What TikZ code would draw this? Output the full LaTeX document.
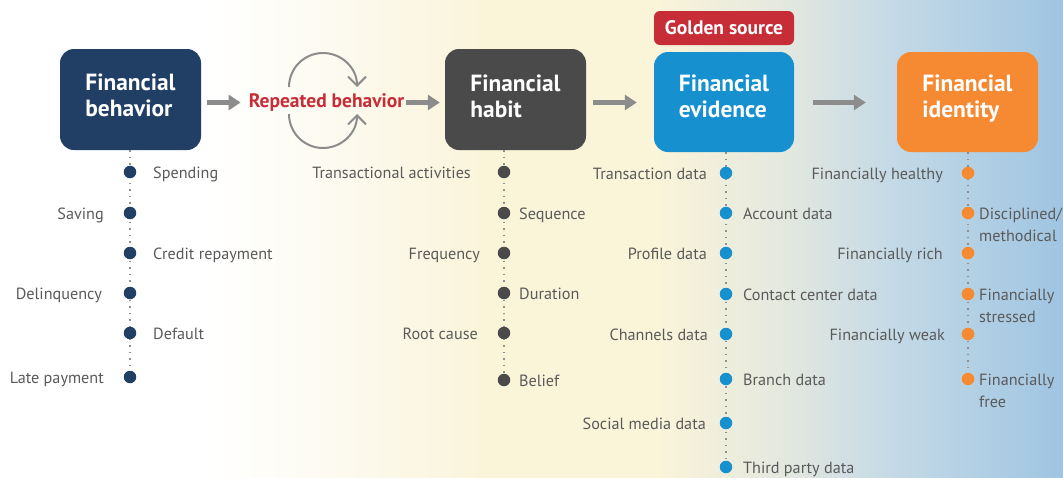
\documentclass[tikz,border=0pt]{standalone}
\usepackage{fontspec}
\setmainfont{PT Sans}
\usetikzlibrary{arrows.meta}

\definecolor{navy}{HTML}{213F65}
\definecolor{charcoal}{HTML}{4A4A4A}
\definecolor{skyblue}{HTML}{1790D0}
\definecolor{tangerine}{HTML}{F58A33}
\definecolor{crimson}{HTML}{C62D37}
\definecolor{arrowgray}{HTML}{8C8C8C}
\definecolor{labelgray}{HTML}{5A5A5A}
\definecolor{dotgray}{HTML}{8F8F8F}
\definecolor{creamA}{HTML}{FCF9EC}
\definecolor{creamB}{HTML}{FAF4D9}
\definecolor{sage}{HTML}{E3E8DF}
\definecolor{mist}{HTML}{C4D9E6}
\definecolor{sky}{HTML}{9FC5E2}

% backdrop: white on the left, cream in the middle, light blue on the right
\pgfdeclarehorizontalshading{backdrop}{100bp}{%
  color(0bp)=(white); color(25bp)=(white); color(35bp)=(white);
  color(42bp)=(creamA); color(48bp)=(creamB); color(56bp)=(creamB);
  color(62bp)=(sage); color(67bp)=(mist); color(75bp)=(sky); color(100bp)=(sky)}

\tikzset{
  stagebox/.style={rounded corners=14pt, inner sep=0pt},
  stagetext/.style={inner sep=0pt, text=white, align=left, anchor=base,
    font=\bfseries\fontsize{23.4}{26}\selectfont},
  badge/.style={rounded corners=6pt, inner sep=0pt, fill=crimson, text=white,
    minimum width=140pt, minimum height=34pt, font=\bfseries\fontsize{19.5}{22}\selectfont},
  flow/.style={draw=arrowgray, line width=5pt, -{Triangle[length=12pt,width=15pt]}},
  loopline/.style={draw=arrowgray, line width=2pt,
    -{Straight Barb[length=9pt,width=18pt,line width=2pt]}},
  dotline/.style={draw=dotgray, line width=1.3pt, dash pattern=on 1.3pt off 5.2pt},
  bullet/.style={circle, inner sep=0pt, minimum size=12.5pt},
  lbl/.style={font=\fontsize{16.2}{22}\selectfont, text=labelgray, inner sep=0pt},
  rside/.style={lbl, anchor=base west},
  lside/.style={lbl, anchor=base east},
}

\begin{document}
\begin{tikzpicture}[x=1pt,y=1pt]
\useasboundingbox (0,0) rectangle (1063,-477);
\shade[shading=backdrop] (0,0) rectangle (1063,-477);

% stage boxes and their titles (titles sit on the baseline of their last line)
\node[stagebox, fill=navy, minimum width=141pt, minimum height=101pt] (behav) at (130.5,-99.5) {};
\node[stagebox, fill=charcoal, minimum width=141pt, minimum height=101pt] (habit) at (515.5,-99.5) {};
\node[stagebox, fill=skyblue, minimum width=140pt, minimum height=100pt] (evid) at (724,-102) {};
\node[stagebox, fill=tangerine, minimum width=141pt, minimum height=100pt] (ident) at (967.5,-102) {};
\node[stagetext] (behavT) at (130.5,-116.5) {Financial\\behavior};
\node[stagetext] (habitT) at (515.5,-117.5) {Financial\\habit};
\node[stagetext] (evidT) at (724,-117.5) {Financial\\evidence};
\node[stagetext] (identT) at (967.5,-117.5) {Financial\\identity};
\node[badge] (gold) at (724,-28) {Golden source};

% repetition loop
\node[font=\bfseries\fontsize{19.5}{22}\selectfont, text=crimson, inner sep=0pt] (rep) at (326.5,-102.5) {Repeated behavior};
\draw[loopline] (289,-87) arc[start angle=180, end angle=0, radius=34];
\draw[loopline] (289,-114) arc[start angle=180, end angle=360, radius=34];

% flow arrows
\draw[flow, shorten <=6pt, shorten >=8pt] (behav.east |- rep) -- (rep.west);
\draw[flow, shorten <=2pt, shorten >=5pt] (rep.east) -- (habit.west |- rep);
\draw[flow, shorten <=7pt, shorten >=17pt] (habit.east |- rep) -- (evid.west |- rep);
\draw[flow, shorten <=19pt, shorten >=31pt] (evid.east |- rep) -- (ident.west |- rep);

% column 1: financial behavior
\foreach \n/\y in {1/172,2/213,3/253,4/293,5/333,6/377}
  \node[bullet] (a\n) at (130,-\y) {};
\draw[dotline] (behav.south -| a1) -- (a6);
\foreach \n in {1,...,6} \node[bullet, fill=navy] at (a\n) {};
\node[rside] at ([xshift=23pt,yshift=-6pt]a1.center) {Spending};
\node[lside] at ([xshift=-26pt,yshift=-6pt]a2.center) {Saving};
\node[rside] at ([xshift=23pt,yshift=-6pt]a3.center) {Credit repayment};
\node[lside] at ([xshift=-28pt,yshift=-6pt]a4.center) {Delinquency};
\node[rside] at ([xshift=23pt,yshift=-6pt]a5.center) {Default};
\node[lside] at ([xshift=-26pt,yshift=-6pt]a6.center) {Late payment};

% column 2: financial habit
\foreach \n/\y in {1/172,2/213,3/253,4/293,5/333,6/380}
  \node[bullet] (h\n) at (504,-\y) {};
\draw[dotline] (habit.south -| h1) -- (h6);
\foreach \n in {1,...,6} \node[bullet, fill=charcoal] at (h\n) {};
\node[lside] at ([xshift=-33pt,yshift=-6pt]h1.center) {Transactional activities};
\node[rside] at ([xshift=15pt,yshift=-6pt]h2.center) {Sequence};
\node[lside] at ([xshift=-24pt,yshift=-6pt]h3.center) {Frequency};
\node[rside] at ([xshift=15pt,yshift=-6pt]h4.center) {Duration};
\node[lside] at ([xshift=-26pt,yshift=-6pt]h5.center) {Root cause};
\node[rside] at ([xshift=15pt,yshift=-6pt]h6.center) {Belief};

% column 3: financial evidence
\foreach \n/\y in {1/173,2/213,3/253,4/294,5/334,6/379,7/423,8/467}
  \node[bullet] (e\n) at (726,-\y) {};
\draw[dotline] (evid.south -| e1) -- (e8);
\foreach \n in {1,...,8} \node[bullet, fill=skyblue] at (e\n) {};
\node[lside] at ([xshift=-19pt,yshift=-6pt]e1.center) {Transaction data};
\node[rside] at ([xshift=17pt,yshift=-6pt]e2.center) {Account data};
\node[lside] at ([xshift=-19pt,yshift=-6pt]e3.center) {Profile data};
\node[rside] at ([xshift=17pt,yshift=-6pt]e4.center) {Contact center data};
\node[lside] at ([xshift=-18pt,yshift=-6pt]e5.center) {Channels data};
\node[rside] at ([xshift=17pt,yshift=-6pt]e6.center) {Branch data};
\node[lside] at ([xshift=-20pt,yshift=-6pt]e7.center) {Social media data};
\node[rside] at ([xshift=17pt,yshift=-6pt]e8.center) {Third party data};

% column 4: financial identity (two-line labels sit on their second line)
\foreach \n/\y in {1/173,2/213,3/253,4/294,5/334,6/379}
  \node[bullet] (d\n) at (968,-\y) {};
\draw[dotline] (ident.south -| d1) -- (d6);
\foreach \n in {1,...,6} \node[bullet, fill=tangerine] at (d\n) {};
\node[lside] at ([xshift=-25pt,yshift=-6pt]d1.center) {Financially healthy};
\node[rside, align=left] at ([xshift=11pt,yshift=-28pt]d2.center) {Disciplined/\\methodical};
\node[lside] at ([xshift=-25pt,yshift=-6pt]d3.center) {Financially rich};
\node[rside, align=left] at ([xshift=11pt,yshift=-28pt]d4.center) {Financially\\stressed};
\node[lside] at ([xshift=-23pt,yshift=-6pt]d5.center) {Financially weak};
\node[rside, align=left] at ([xshift=11pt,yshift=-28pt]d6.center) {Financially\\free};
\end{tikzpicture}
\end{document}
